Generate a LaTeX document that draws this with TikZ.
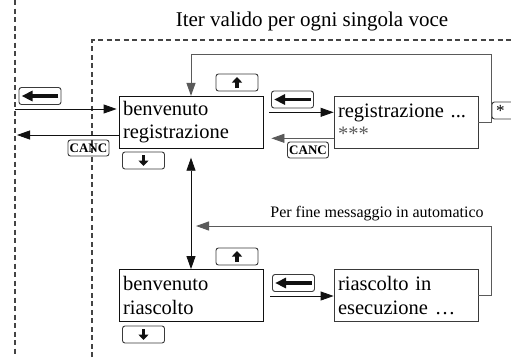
\documentclass[tikz,border=0pt]{standalone}
\usepackage{fontspec}
\setmainfont{Liberation Serif}
\usetikzlibrary{arrows.meta,positioning,calc}
\definecolor{Ink}{HTML}{111111}
\definecolor{Wire}{HTML}{5A5A5A}
\definecolor{Cap}{HTML}{3A3A3A}
\definecolor{Fence}{HTML}{444444}

\begin{document}
\begin{tikzpicture}[x=1bp,y=-1bp,
  >={Triangle[length=13bp,width=9bp]},
  screen/.style={draw=Ink,line width=.8bp,minimum width=144bp,minimum height=52bp,
    text width=136bp,inner xsep=4bp,inner ysep=0pt,align=left,
    font=\fontsize{20.5bp}{23.5bp}\selectfont},
  keycap/.style={draw=Cap,line width=.9bp,rounded corners=2.5bp,minimum width=42bp,
    minimum height=17bp,inner sep=0pt,font=\bfseries\fontsize{13bp}{14bp}\selectfont},
  glyph/.style={line width=3.5bp,Ink,-{Triangle[length=11bp,width=10bp]}},
  link/.style={->,line width=.8bp,Ink},
  back/.style={->,line width=1bp,Wire},
  fence/.style={Fence,line width=1.3bp,dash pattern=on 5bp off 3.5bp}]
  \useasboundingbox (0,0) rectangle (511,357);

  % confini tratteggiati
  \draw[fence] (15,0) -- (15,357);
  \draw[fence] (92,357) -- (92,40) -- (511,40);
  \node[font=\fontsize{21bp}{24bp}\selectfont,anchor=base] (title) at (312,26)
    {Iter valido per ogni singola voce};

  % schermate
  \node[screen] (reg) at (191,122.3) {benvenuto\\registrazione};
  \node[screen,draw=Cap] (rec) at (406,122.3) {registrazione ...\\{\color{Wire}***}};
  \node[screen] (ria) at (191,295.5) {benvenuto\\riascolto};
  \node[screen,draw=Cap] (play) at (406,295.5) {riascolto in\\esecuzione …};

  % tasti
  \node[keycap] (kin) at (40,96) {};
  \node[keycap] (kup1) at (237,82.5) {};
  \node[keycap] (kdn1) at (143.5,160.5) {};
  \node[keycap,minimum width=41bp,minimum height=16bp] (kx1) at (88.5,148) {CANC};
  \node[keycap] (kbk1) at (292.5,99.5) {};
  \node[keycap,minimum width=41bp,minimum height=16bp] (kx2) at (308,150) {CANC};
  \node[keycap,text width=34bp,inner xsep=3.5bp,align=left,
    font=\fontsize{17bp}{18bp}\selectfont] (kst) at (513,110.5) {\raisebox{-2.5bp}{*}};
  \node[keycap] (kup2) at (237,256.5) {};
  \node[keycap] (kdn2) at (143.5,334.5) {};
  \node[keycap] (kbk2) at (293.5,283) {};

  \foreach \k in {kin,kbk1,kbk2}
    \draw[glyph] ($(\k.east)+(-3,0)$) -- ($(\k.west)+(3,0)$);
  \foreach \k in {kup1,kup2}
    \draw[glyph,-{Triangle[length=5.5bp,width=10bp]}] ($(\k)+(0,5.5)$) -- ($(\k)+(0,-5.5)$);
  \foreach \k in {kdn1,kdn2}
    \draw[glyph,-{Triangle[length=5.5bp,width=10bp]}] ($(\k)+(0,-5.5)$) -- ($(\k)+(0,5.5)$);

  % collegamenti
  \coordinate (edgeL) at (15,109);
  \coordinate (edgeLo) at (17,135);
  \draw[link] (edgeL) -- ($(edgeL -| reg.west)+(-2,0)$);
  \draw[link] (reg.west |- edgeLo) -- (edgeLo);
  \draw[link] ($(reg.east)+(6,-10)$) -- ($(rec.west)+(0,-10)$);
  \draw[link,Wire] ($(rec.west)+(0,16)$) -- ($(reg.east)+(8,16)$);
  \coordinate (topturn) at (491,54);
  \draw[back] (rec.east) -| (topturn) -| (reg.north);
  \draw[link,<->] ($(reg.south)+(0,9)$) -- (ria.north);
  \coordinate (lowturn) at (491,226);
  \draw[back] (play.east) -| (lowturn) -- ($(lowturn -| reg.south)+(5,0)$);
  \node[font=\fontsize{16bp}{18bp}\selectfont,anchor=base] (auto) at (377,217)
    {Per fine messaggio in automatico};
  \draw[link] ($(ria.east)+(7,0.5)$) -- ($(play.west)+(0,0.5)$);
\end{tikzpicture}
\end{document}
